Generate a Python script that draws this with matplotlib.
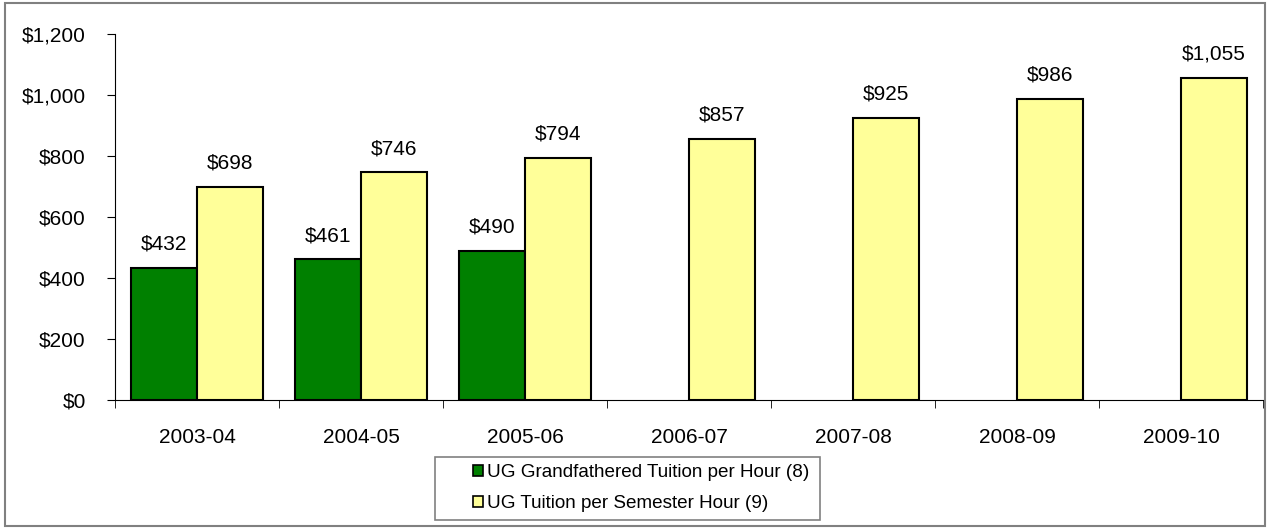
import numpy as np
import matplotlib
matplotlib.use("Agg")
import matplotlib.pyplot as plt
from matplotlib.patches import Rectangle

plt.rcParams['font.family'] = ['Liberation Sans', 'DejaVu Sans']

years = ["2003-04", "2004-05", "2005-06", "2006-07", "2007-08", "2008-09", "2009-10"]
grandfathered = [432, 461, 490, None, None, None, None]
per_semester = [698, 746, 794, 857, 925, 986, 1055]
labels = ["UG Grandfathered Tuition per Hour (8)", "UG Tuition per Semester Hour (9)"]

fs = 15

fig = plt.figure(figsize=(12.7, 5.29), dpi=100)
ax = fig.add_axes([0.0906, 0.2439, 0.9039, 0.6918])

x = np.arange(len(years))
w = 0.4
gx = [i for i, v in zip(x, grandfathered) if v is not None]
gv = [v for v in grandfathered if v is not None]
ax.bar(np.array(gx) - w / 2, gv, w, color="#008000", edgecolor="black", linewidth=1.5, label=labels[0])
ax.bar(x + w / 2, per_semester, w, color="#FFFF99", edgecolor="black", linewidth=1.5, label=labels[1])

# value labels sit a fixed distance above each bar
for xi, v in zip(gx, gv):
    ax.text(xi - w / 2, v + 78, f"${v:,}", ha="center", va="center", fontsize=fs)
for xi, v in zip(x, per_semester):
    ax.text(xi + w / 2, v + 78, f"${v:,}", ha="center", va="center", fontsize=fs)

ax.set_xlim(-0.5, len(years) - 0.5)
ax.set_ylim(0, 1200)
ax.set_yticks(range(0, 1201, 200))
ax.set_yticklabels([f"${v:,}" for v in range(0, 1201, 200)], fontsize=fs)
ax.set_xticks(x)
ax.set_xticklabels(years, fontsize=fs)
ax.set_xticks(np.arange(-0.5, len(years), 1), minor=True)
ax.tick_params(axis="x", which="major", length=0, pad=20)
ax.tick_params(axis="x", which="minor", length=6, direction="out")
ax.tick_params(axis="y", length=6, direction="out", pad=15)
for s in ["top", "right"]:
    ax.spines[s].set_visible(False)

# legend entries without a frame, box drawn separately
leg = fig.legend(loc="center left", bbox_to_anchor=(0.3724, 0.0775),
                 fontsize=13.6, frameon=False,
                 handlelength=0.55, handleheight=0.55, handletextpad=0.2, borderaxespad=0,
                 labelspacing=0.75, borderpad=0)
for h in leg.legend_handles:
    h.set_linewidth(1.2)
fig.patches.append(Rectangle((0.3425, 0.017), 0.303, 0.119, transform=fig.transFigure,
                             fill=False, edgecolor="#808080", linewidth=1.2))

fig.patches.append(Rectangle((0.004, 0.006), 0.992, 0.988, transform=fig.transFigure,
                             fill=False, edgecolor="#808080", linewidth=1.5))

fig.savefig("out.png", dpi=100)
